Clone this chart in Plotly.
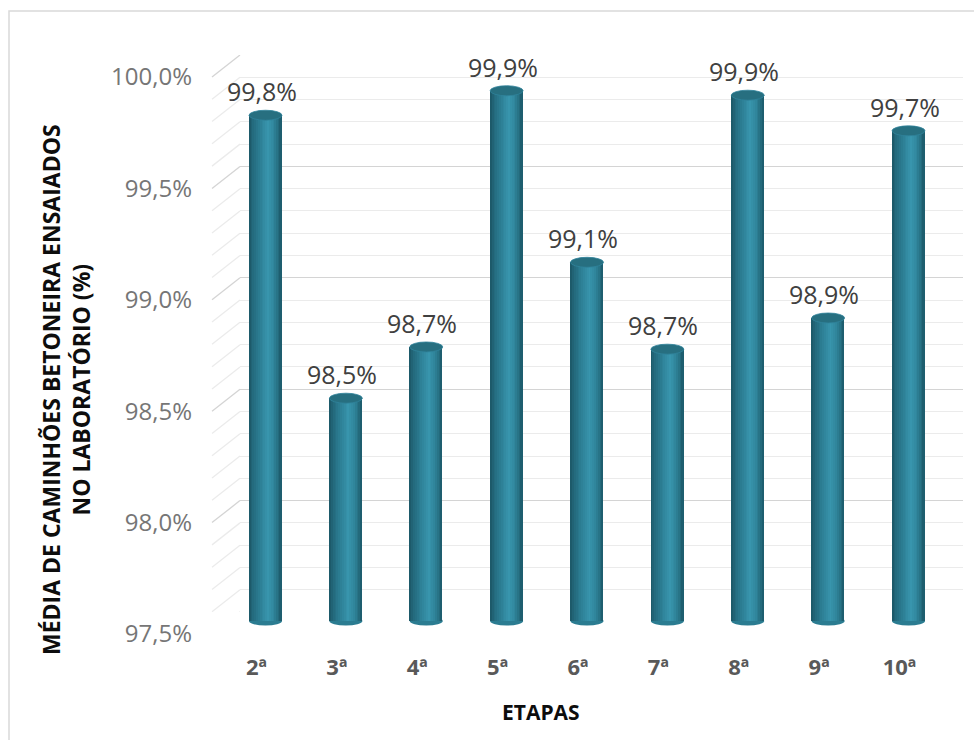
import plotly.graph_objects as go

# ---------------- data ----------------
categories = ["2ª", "3ª", "4ª", "5ª", "6ª", "7ª", "8ª", "9ª", "10ª"]
values = [99.77, 98.50, 98.73, 99.88, 99.11, 98.72, 99.86, 98.86, 99.70]
ytick_vals = [97.5, 98.0, 98.5, 99.0, 99.5, 100.0]
ytick_text = ["97,5%", "98,0%", "98,5%", "99,0%", "99,5%", "100,0%"]
grid_vals = [round(97.5 + 0.1 * i, 1) for i in range(26)]
y_title = "MÉDIA DE CAMINHÕES BETONEIRA ENSAIADOS<br>NO LABORATÓRIO (%)"
x_title = "ETAPAS"

W, H = 974, 740
FONT = "Open Sans"

def hx(c):
    c = c.lstrip("#")
    return tuple(int(c[i:i + 2], 16) for i in (0, 2, 4))

def lerp(a, b, t):
    return "rgb(%d,%d,%d)" % tuple(round(a[i] + (b[i] - a[i]) * t) for i in range(3))

profile = [(0.0, "#1b5565"), (0.12, "#23697c"), (0.35, "#2d8096"),
           (0.58, "#3895ad"), (0.75, "#30869c"), (0.9, "#256e80"), (1.0, "#1c5868")]

def prof_color(t):
    for (t0, c0), (t1, c1) in zip(profile[:-1], profile[1:]):
        if t0 <= t <= t1:
            return lerp(hx(c0), hx(c1), (t - t0) / (t1 - t0))
    return profile[-1][1]

# pixel geometry (back wall)
wall_left, wall_right = 240, 963
wall_bottom, wall_top = 612, 55
pxper = (wall_bottom - wall_top) / 2.5  # px per 1%
# bar subplot (slightly in front)
bar_base_px = 621
bar_dom_bottom_px = 630
ymin2 = 97.5 - (bar_dom_bottom_px - bar_base_px) / pxper
bar_dom_top_px = bar_dom_bottom_px - (100 - ymin2) * pxper
cat_step = 80.375
first_center = 265.5
x2_left = first_center - cat_step / 2
x2_right = first_center + cat_step * 8.5
bar_w = 0.41

fig = go.Figure()

nstr = 18
sw = bar_w / nstr
for i in range(nstr):
    t = (i + 0.5) / nstr
    fig.add_trace(go.Bar(
        x=categories, y=[v - 97.5 for v in values], base=97.5,
        xaxis="x2", yaxis="y2",
        width=sw * 1.6 if i < nstr - 1 else sw,
        offset=-bar_w / 2 + i * sw,
        marker=dict(color=prof_color(t), line=dict(width=0)),
        hoverinfo="skip", showlegend=False,
    ))

shapes = []
# outer border
shapes.append(dict(type="rect", xref="paper", yref="paper",
                   x0=9 / W, x1=1.2, y0=-0.2, y1=(H - 11) / H,
                   line=dict(color="#d9d9d9", width=1.5), fillcolor="rgba(0,0,0,0)", layer="below"))
# side-wall diagonal gridlines
for g in grid_vals:
    major = abs((g * 2) - round(g * 2)) < 1e-6
    shapes.append(dict(type="line", xref="paper", yref="y",
                       xsizemode="pixel", xanchor=wall_left / W, x0=-28, x1=0,
                       ysizemode="pixel", yanchor=g, y0=-22, y1=0,
                       line=dict(color="#d4d4d4" if major else "#ebebeb", width=1.3),
                       layer="below"))
# cylinder bottoms and tops
for i, (c, v) in enumerate(zip(categories, values)):
    shapes.append(dict(type="circle", xref="x2", yref="y2",
                       x0=i - bar_w / 2, x1=i + bar_w / 2,
                       ysizemode="pixel", yanchor=97.5, y0=-4.5, y1=4.5,
                       fillcolor="#2b7c91", line=dict(width=0), layer="below"))
    shapes.append(dict(type="circle", xref="x2", yref="y2",
                       x0=i - bar_w / 2, x1=i + bar_w / 2,
                       ysizemode="pixel", yanchor=v, y0=-5, y1=5,
                       fillcolor="#276f80", line=dict(color="#30839a", width=0.8), layer="above"))

annotations = []
for c, v in zip(categories, values):
    annotations.append(dict(x=c, y=v, xref="x2", yref="y2",
                            text=f"{v:.1f}".replace(".", ",") + "%",
                            showarrow=False, xanchor="center", yanchor="middle",
                            xshift=-4, yshift=24,
                            font=dict(family=FONT, size=25, color="#404040")))
annotations.append(dict(x=66 / W, y=(H - 390) / H, xref="paper", yref="paper",
                        text=y_title, textangle=-90, showarrow=False,
                        xanchor="center", yanchor="middle",
                        font=dict(family=FONT, size=23, color="#0d0d0d", weight="bold")))
annotations.append(dict(x=541 / W, y=(H - 712) / H, xref="paper", yref="paper",
                        text=x_title, showarrow=False,
                        xanchor="center", yanchor="middle",
                        font=dict(family=FONT, size=21, color="#0d0d0d", weight="bold")))

fig.update_layout(
    width=W, height=H,
    margin=dict(l=0, r=0, t=0, b=0, pad=0, autoexpand=False),
    paper_bgcolor="white", plot_bgcolor="rgba(0,0,0,0)",
    barmode="overlay", bargap=0,
    showlegend=False,
    shapes=shapes, annotations=annotations,
    xaxis=dict(domain=[wall_left / W, wall_right / W], range=[0, 1], automargin=False,
               showgrid=False, zeroline=False, showticklabels=False, showline=False,
               fixedrange=True),
    yaxis=dict(domain=[(H - wall_bottom) / H, (H - wall_top) / H], range=[97.5, 100],
               automargin=False,
               tickvals=ytick_vals, ticktext=ytick_text,
               showgrid=True, gridcolor="#d4d4d4", gridwidth=1.3,
               minor=dict(dtick=0.1, tick0=97.5, showgrid=True, gridcolor="#ebebeb", gridwidth=1.3),
               zeroline=False, showline=False, ticks="",
               ticklabelshift=22, ticklabelstandoff=47,
               tickfont=dict(family=FONT, size=24, color="#767676")),
    xaxis2=dict(domain=[x2_left / W, x2_right / W], range=[-0.5, 8.5], automargin=False,
                anchor="y2", type="category",
                showgrid=False, zeroline=False, showline=False, ticks="",
                ticklabelshift=-9, ticklabelstandoff=22,
                tickfont=dict(family=FONT, size=22, color="#595959", weight="bold")),
    yaxis2=dict(domain=[(H - bar_dom_bottom_px) / H, (H - bar_dom_top_px) / H],
                range=[ymin2, 100], anchor="x2", automargin=False,
                showgrid=False, zeroline=False, showline=False, showticklabels=False,
                ticks=""),
)

fig.write_html("out.html")
